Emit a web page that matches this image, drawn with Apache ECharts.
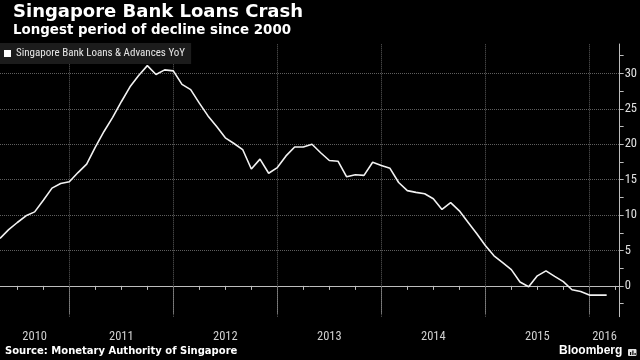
<!DOCTYPE html>
<html>
<head>
<meta charset="utf-8">
<script src="https://cdn.jsdelivr.net/npm/echarts@6/dist/echarts.min.js"></script>
<style>
html,body{margin:0;padding:0;background:#000;}
#chart{width:640px;height:360px;}
</style>
</head>
<body>
<div id="chart"></div>
<script>
// ---- data ----
const months = [
  '2010-05','2010-06','2010-07','2010-08','2010-09','2010-10','2010-11','2010-12',
  '2011-01','2011-02','2011-03','2011-04','2011-05','2011-06','2011-07','2011-08','2011-09','2011-10','2011-11','2011-12',
  '2012-01','2012-02','2012-03','2012-04','2012-05','2012-06','2012-07','2012-08','2012-09','2012-10','2012-11','2012-12',
  '2013-01','2013-02','2013-03','2013-04','2013-05','2013-06','2013-07','2013-08','2013-09','2013-10','2013-11','2013-12',
  '2014-01','2014-02','2014-03','2014-04','2014-05','2014-06','2014-07','2014-08','2014-09','2014-10','2014-11','2014-12',
  '2015-01','2015-02','2015-03','2015-04','2015-05','2015-06','2015-07','2015-08','2015-09','2015-10','2015-11','2015-12',
  '2016-01','2016-02','2016-03'
];
const loansYoY = [
  6.7, 7.95, 8.95, 9.9, 10.45, 12.1, 13.8, 14.45,
  14.7, 16.0, 17.2, 19.6, 21.8, 23.8, 26.0, 28.1, 29.7, 31.1, 29.85, 30.5,
  30.35, 28.45, 27.7, 25.8, 24.0, 22.5, 20.9, 20.1, 19.25, 16.5, 17.9, 15.9,
  16.7, 18.35, 19.6, 19.6, 20.0, 18.8, 17.7, 17.6, 15.4, 15.7, 15.6, 17.45,
  17.0, 16.6, 14.6, 13.45, 13.2, 13.0, 12.3, 10.8, 11.75, 10.6, 9.0, 7.4,
  5.7, 4.25, 3.3, 2.3, 0.55, -0.12, 1.42, 2.12, 1.35, 0.6, -0.55, -0.8,
  -1.3, -1.3, -1.3
];
const seriesName = 'Singapore Bank Loans & Advances YoY';
const yTickLabels = [0, 5, 10, 15, 20, 25, 30];
const yMinorTicks = [-2.5, 2.5, 7.5, 12.5, 17.5, 22.5, 27.5, 32.5];
const yearLabels = ['2010', '2011', '2012', '2013', '2014', '2015', '2016'];
const quarterMonths = [3, 6, 9]; // Apr, Jul, Oct minor ticks

// ---- helpers ----
const BASE_YEAR = 2010;
function monthIndex(s) {
  const [y, m] = s.split('-').map(Number);
  return (y - BASE_YEAR) * 12 + (m - 1);
}
const xMin = monthIndex(months[0]);
const xMax = monthIndex(months[months.length - 1]) + 1.5;
const yMin = -4.35, yMax = 34.15;

const seriesData = months.map((m, i) => [monthIndex(m), loansYoY[i]]);
const yearStarts = yearLabels.map(y => (Number(y) - BASE_YEAR) * 12);
const yearBoundaries = yearStarts.filter(v => v > xMin && v < xMax);
const yearCenters = yearStarts.map(s => (Math.max(s, xMin) + Math.min(s + 12, xMax)) / 2);
const quarterTicks = [];
yearStarts.forEach(s => quarterMonths.forEach(q => {
  const v = s + q;
  if (v > xMin && v <= xMax) quarterTicks.push(v);
}));

const narrow = "'Liberation Sans Narrow', 'Roboto Condensed', Roboto, sans-serif";
const gridColor = '#5e5e5e';

const chart = echarts.init(document.getElementById('chart'));
chart.setOption({
  backgroundColor: '#000',
  animation: false,
  grid: { left: 0, right: 19.3, top: 44, bottom: 43.3, containLabel: false },
  legend: {
    left: 0, top: 43, selectedMode: false,
    backgroundColor: '#1c1c1c',
    padding: [5, 6, 5, 4],
    icon: 'rect', itemWidth: 7, itemHeight: 7,
    textStyle: { color: '#e6e6e6', fontSize: 11, fontFamily: narrow },
    data: [seriesName]
  },
  xAxis: [
    {
      type: 'value', min: xMin, max: xMax, position: 'bottom',
      axisLine: { show: true, lineStyle: { color: '#bdbdbd', width: 1 } },
      axisTick: { show: true, customValues: yearBoundaries, length: 28, lineStyle: { color: '#8a8a8a' } },
      axisLabel: {
        show: true, customValues: yearCenters, margin: 14,
        color: '#d0d0d0', fontSize: 12.5, fontFamily: narrow,
        formatter: v => String(BASE_YEAR + Math.floor(v / 12))
      },
      splitLine: { show: false }
    },
    {
      type: 'value', min: xMin, max: xMax, position: 'bottom',
      axisLine: { show: false },
      axisTick: { show: true, customValues: quarterTicks, length: 4, lineStyle: { color: '#bdbdbd' } },
      axisLabel: { show: false },
      splitLine: { show: false }
    }
  ],
  yAxis: [
    {
      type: 'value', min: yMin, max: yMax, position: 'right',
      axisLine: { show: true, lineStyle: { color: '#bdbdbd', width: 1 } },
      axisTick: { show: true, customValues: yTickLabels, length: 4, lineStyle: { color: '#bdbdbd' } },
      axisLabel: { show: true, customValues: yTickLabels, margin: 5, color: '#e0e0e0', fontSize: 12.5, fontFamily: narrow },
      splitLine: { show: true, lineStyle: { color: gridColor, type: 'dotted', width: 1 } }
    },
    {
      type: 'value', min: yMin, max: yMax, position: 'right',
      axisLine: { show: false },
      axisTick: { show: true, customValues: yMinorTicks, length: 4, lineStyle: { color: '#bdbdbd' } },
      axisLabel: { show: false },
      splitLine: { show: false }
    }
  ],
  series: [{
    name: seriesName, type: 'line', data: seriesData,
    xAxisIndex: 0, yAxisIndex: 0,
    showSymbol: false, symbol: 'none',
    itemStyle: { color: '#ffffff' },
    lineStyle: { color: '#f2f2f2', width: 1.6 },
    silent: true,
    z: 3,
    markLine: {
      silent: true, symbol: ['none', 'none'], label: { show: false },
      lineStyle: { color: gridColor, type: 'dotted', width: 1 },
      emphasis: { disabled: true },
      z: 1,
      data: yearBoundaries.map(v => ({ xAxis: v }))
    }
  }],
  graphic: [
    { type: 'text', left: 13, top: 3, style: { text: 'Singapore Bank Loans Crash', fill: '#ffffff', font: "bold 18px 'DejaVu Sans'" } },
    { type: 'text', left: 13, top: 24, style: { text: 'Longest period of decline since 2000', fill: '#ffffff', font: "bold 13.4px 'DejaVu Sans'" } },
    { type: 'text', left: 5, top: 346, style: { text: 'Source: Monetary Authority of Singapore', fill: '#ffffff', font: "bold 10px 'DejaVu Sans'" } },
    { type: 'text', left: 559, top: 345, style: { text: 'Bloomberg', fill: '#ffffff', font: "bold 12px 'Liberation Sans', Arial, sans-serif" } },
    { type: 'rect', left: 628, top: 349, shape: { width: 8.5, height: 7, r: 1 }, style: { fill: '#e0e0e0' } },
    { type: 'rect', left: 630, top: 352, shape: { width: 1.2, height: 3 }, style: { fill: '#000' } },
    { type: 'rect', left: 632.3, top: 350.5, shape: { width: 1.2, height: 4.5 }, style: { fill: '#000' } },
    { type: 'rect', left: 634.5, top: 353, shape: { width: 1.2, height: 2 }, style: { fill: '#000' } }
  ]
});
</script>
</body>
</html>
